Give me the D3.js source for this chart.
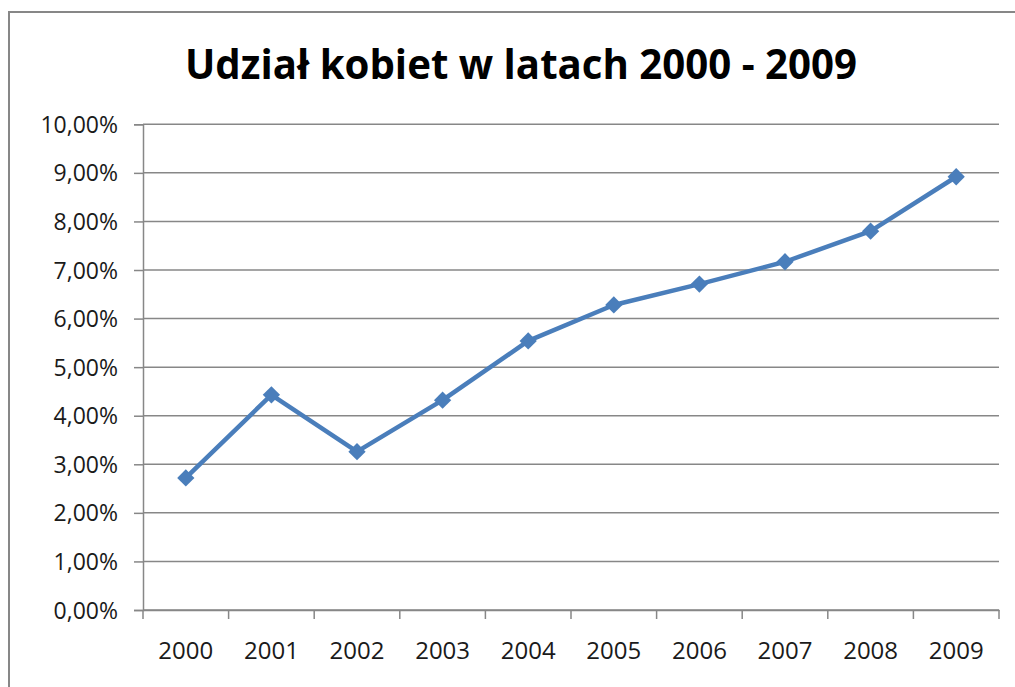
<!DOCTYPE html>
<html>
<head>
<meta charset="utf-8">
<script src="https://cdn.jsdelivr.net/npm/d3@7"></script>
<style>
    body { margin: 0; background: #fff; }
    svg { display: block; }
    .axis text { font-family: "Open Sans", sans-serif; fill: #1a1a1a; }
    .axis path, .axis line { stroke: #878787; stroke-width: 1.5; }
</style>
</head>
<body>
<svg width="1015" height="687"></svg>
<script>
    var title = "Udział kobiet w latach 2000 - 2009";
    var years = ["2000", "2001", "2002", "2003", "2004", "2005", "2006", "2007", "2008", "2009"];
    var shares = [2.72, 4.43, 3.26, 4.32, 5.54, 6.28, 6.71, 7.17, 7.80, 8.92];
    var yTicks = [0, 1, 2, 3, 4, 5, 6, 7, 8, 9, 10];

    var data = years.map(function(d, i) {
        return { year: d, value: shares[i] };
    });

    var margin = { top: 124.3, right: 16, bottom: 77, left: 143 },
        svg = d3.select("svg"),
        width = +svg.attr("width") - margin.left - margin.right,
        height = +svg.attr("height") - margin.top - margin.bottom;

    // outer chart border
    svg.append("rect")
        .attr("x", 9)
        .attr("y", 12)
        .attr("width", 1040)
        .attr("height", 720)
        .attr("fill", "#fff")
        .attr("stroke", "#878787")
        .attr("stroke-width", 2);

    svg.append("text")
        .attr("x", 521)
        .attr("y", 78.5)
        .attr("text-anchor", "middle")
        .attr("textLength", 672)
        .attr("lengthAdjust", "spacingAndGlyphs")
        .style("font-family", "'Open Sans', sans-serif")
        .style("font-weight", "bold")
        .style("font-size", "42px")
        .text(title);

    var x = d3.scaleBand().domain(years).range([0, width]),
        y = d3.scaleLinear().domain([0, 10]).range([height, 0]);

    var g = svg.append("g")
        .attr("transform", "translate(" + margin.left + "," + margin.top + ")");

    // grid lines
    g.append("g")
        .attr("class", "grid")
        .selectAll("line")
        .data(yTicks)
        .enter().append("line")
        .attr("x1", 0)
        .attr("x2", width)
        .attr("y1", function(d) { return y(d); })
        .attr("y2", function(d) { return y(d); })
        .attr("stroke", "#878787")
        .attr("stroke-width", 1.5);

    var fmt = function(d) { return d.toFixed(2).replace(".", ",") + "%"; };

    var yAxis = g.append("g")
        .attr("class", "axis axis--y")
        .call(d3.axisLeft(y).tickValues(yTicks).tickFormat(fmt).tickSize(9).tickPadding(16));
    yAxis.selectAll("text").style("font-size", "23px").attr("dy", "0.35em");

    // x axis with ticks between categories
    var xAxis = g.append("g")
        .attr("class", "axis axis--x")
        .attr("transform", "translate(0," + height + ")")
        .call(d3.axisBottom(x).tickSize(0).tickPadding(32));
    xAxis.selectAll("text").style("font-size", "24px");
    xAxis.selectAll(".sep")
        .data(d3.range(years.length + 1))
        .enter().append("line")
        .attr("class", "sep")
        .attr("x1", function(i) { return i * x.step(); })
        .attr("x2", function(i) { return i * x.step(); })
        .attr("y1", 0)
        .attr("y2", 9);

    var cx = function(d) { return x(d.year) + x.bandwidth() / 2; };

    g.append("path")
        .datum(data)
        .attr("fill", "none")
        .attr("stroke", "#4a7ebb")
        .attr("stroke-width", 4.5)
        .attr("stroke-linejoin", "round")
        .attr("d", d3.line().x(cx).y(function(d) { return y(d.value); }));

    g.selectAll(".marker")
        .data(data)
        .enter().append("path")
        .attr("class", "marker")
        .attr("fill", "#4a7ebb")
        .attr("d", d3.symbol().type(d3.symbolDiamond2).size(190))
        .attr("transform", function(d) {
            return "translate(" + cx(d) + "," + y(d.value) + ")";
        });
</script>
</body>
</html>
